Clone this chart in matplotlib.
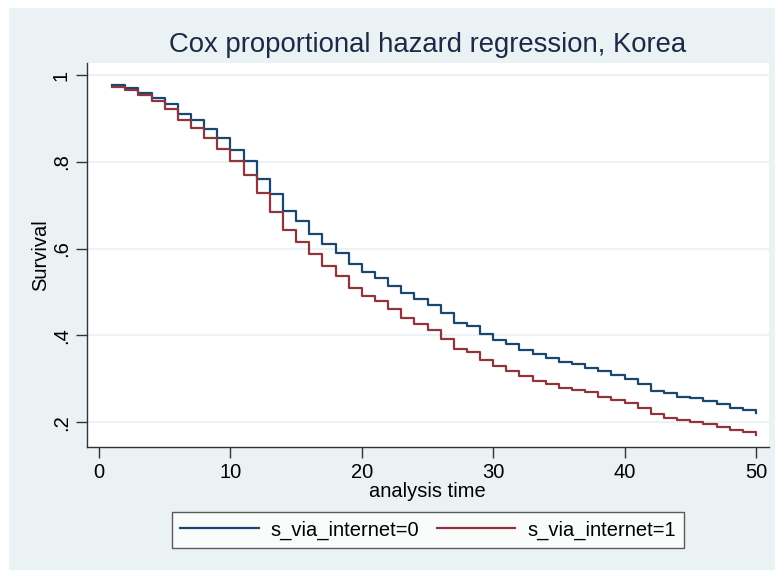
import matplotlib
matplotlib.use("Agg")
import matplotlib.pyplot as plt
from matplotlib.patches import Rectangle

plt.rcParams['font.family'] = ['Liberation Sans', 'DejaVu Sans']

# Estimated survival at each analysis time (step function)
times = list(range(1, 51))
surv_internet0 = [0.977, 0.969, 0.959, 0.948, 0.933, 0.911, 0.896, 0.875, 0.854, 0.828,
                  0.801, 0.761, 0.725, 0.686, 0.663, 0.634, 0.611, 0.590, 0.565, 0.547,
                  0.533, 0.515, 0.497, 0.484, 0.471, 0.451, 0.428, 0.421, 0.403, 0.390,
                  0.380, 0.367, 0.357, 0.347, 0.340, 0.334, 0.326, 0.318, 0.309, 0.299,
                  0.289, 0.273, 0.267, 0.259, 0.255, 0.248, 0.243, 0.234, 0.228, 0.221]
surv_internet1 = [0.973, 0.965, 0.954, 0.941, 0.921, 0.896, 0.879, 0.854, 0.829, 0.802,
                  0.770, 0.728, 0.684, 0.642, 0.615, 0.587, 0.561, 0.538, 0.510, 0.490,
                  0.479, 0.460, 0.440, 0.427, 0.413, 0.393, 0.369, 0.361, 0.344, 0.330,
                  0.319, 0.307, 0.296, 0.288, 0.280, 0.274, 0.269, 0.259, 0.252, 0.244,
                  0.234, 0.219, 0.211, 0.205, 0.201, 0.196, 0.190, 0.182, 0.178, 0.170]
series_labels = ["s_via_internet=0", "s_via_internet=1"]
series_colors = ["#1a476f", "#90353b"]

x_ticks = [0, 10, 20, 30, 40, 50]
y_ticks = [0.2, 0.4, 0.6, 0.8, 1.0]
y_ticklabels = [".2", ".4", ".6", ".8", "1"]

W, H = 775, 570
fig = plt.figure(figsize=(W / 100, H / 100), dpi=100)
fig.patch.set_facecolor("white")

# graph region background
bg = "#eaf2f3"
fig.patches.append(Rectangle((9 / W, 0), 1 - 9 / W, 1 - 8 / H,
                             transform=fig.transFigure, facecolor=bg,
                             edgecolor="none", zorder=-10))

left, right, top, bottom = 86.7, 769, 63.3, 447.3
ax = fig.add_axes([left / W, 1 - bottom / H, (right - left) / W, (bottom - top) / H])
ax.set_facecolor("white")

for y, c, lab in zip([surv_internet0, surv_internet1], series_colors, series_labels):
    ax.plot(times, y, drawstyle="steps-post", color=c, lw=1.6, label=lab, zorder=3)

ax.set_xlim(-0.94, 50.99)
ax.set_ylim(0.1424, 1.027)

fs = 14.5
ax.set_xticks(x_ticks)
ax.set_xticklabels([str(t) for t in x_ticks], fontsize=fs)
ax.set_yticks(y_ticks)
ax.set_yticklabels(y_ticklabels, fontsize=fs, rotation=90, va="center")

ax.tick_params(axis="both", direction="out", length=8, width=1, color="#333333",
               pad=3.5)
ax.grid(axis="y", color=bg, lw=1.5, zorder=0)
ax.set_axisbelow(True)

for s in ["top", "right"]:
    ax.spines[s].set_visible(False)
for s in ["left", "bottom"]:
    ax.spines[s].set_color("#333333")
    ax.spines[s].set_linewidth(1)

ax.set_xlabel("analysis time", fontsize=fs, labelpad=0)
ax.set_ylabel("Survival", fontsize=fs, labelpad=1)

fig.text(428 / W, 1 - 45 / H, "Cox proportional hazard regression, Korea",
         ha="center", va="center", fontsize=19.8, color="#1c2a48")

leg = ax.legend(loc="center", bbox_to_anchor=(172 / W, 1 - 548 / H, 512 / W, 36 / H),
                bbox_transform=fig.transFigure, mode="expand", ncol=2,
                fontsize=fs, handlelength=3.9, handletextpad=0.6,
                frameon=True, fancybox=False, borderaxespad=0,
                borderpad=0.4, columnspacing=1.5)
leg.get_frame().set_edgecolor("#333333")
leg.get_frame().set_linewidth(1)
leg.get_frame().set_facecolor("white")

fig.savefig("out.png", dpi=100, facecolor=fig.get_facecolor())
